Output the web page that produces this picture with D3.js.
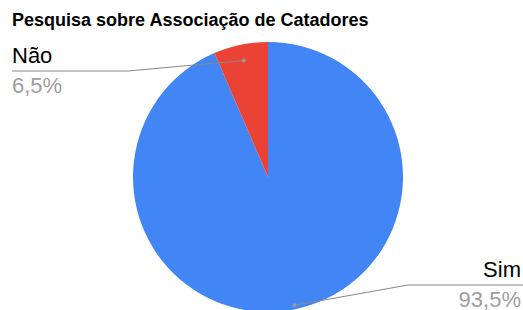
<!DOCTYPE html>
<html>
<head>
<meta charset="utf-8">
<script src="https://cdn.jsdelivr.net/npm/d3@7"></script>
<style>
  body { margin: 0; background: #fff; }
  text { font-family: "Liberation Sans", Arial, sans-serif; }
</style>
</head>
<body>
<svg id="chart" width="523" height="310"></svg>
<script>
const categories = ["Sim", "Não"];
const values = [93.5, 6.5];
const valueLabels = ["93,5%", "6,5%"];
const colors = ["#4285F4", "#EA4335"];

const svg = d3.select("#chart");
const cx = 268, cy = 177, radius = 135;

svg.append("text")
  .attr("x", 12).attr("y", 26)
  .attr("font-size", 18).attr("font-weight", "bold")
  .attr("fill", "#000")
  .text("Pesquisa sobre Associação de Catadores");

const pie = d3.pie().sort(null).value(d => d);
const arcs = pie(values);
const arc = d3.arc().innerRadius(0).outerRadius(radius);

const g = svg.append("g").attr("transform", `translate(${cx},${cy})`);

g.selectAll("path")
  .data(arcs)
  .join("path")
  .attr("d", arc)
  .attr("fill", (d, i) => colors[i]);

// leader lines & labels: dot radius per slice, label side
const dotR = [131, 119];
const labelPos = [
  { lineY: 285, elbowX: 408, endX: 523, anchor: "end", textX: 521, nameY: 277, valY: 307 },
  { lineY: 71, elbowX: 128, endX: 12, anchor: "start", textX: 12, nameY: 63, valY: 93 }
];

arcs.forEach((d, i) => {
  const mid = (d.startAngle + d.endAngle) / 2;
  const px = cx + Math.sin(mid) * dotR[i];
  const py = cy - Math.cos(mid) * dotR[i];
  const p = labelPos[i];
  svg.append("polyline")
    .attr("points", `${px},${py} ${p.elbowX},${p.lineY} ${p.endX},${p.lineY}`)
    .attr("fill", "none")
    .attr("stroke", "#888")
    .attr("stroke-width", 1);
  svg.append("circle")
    .attr("cx", px).attr("cy", py).attr("r", 2)
    .attr("fill", "#999");
  svg.append("text")
    .attr("x", p.textX).attr("y", p.nameY)
    .attr("text-anchor", p.anchor)
    .attr("font-size", 22).attr("fill", "#000")
    .text(categories[i]);
  svg.append("text")
    .attr("x", p.textX).attr("y", p.valY)
    .attr("text-anchor", p.anchor)
    .attr("font-size", 22).attr("fill", "#9e9e9e")
    .text(valueLabels[i]);
});
</script>
</body>
</html>
